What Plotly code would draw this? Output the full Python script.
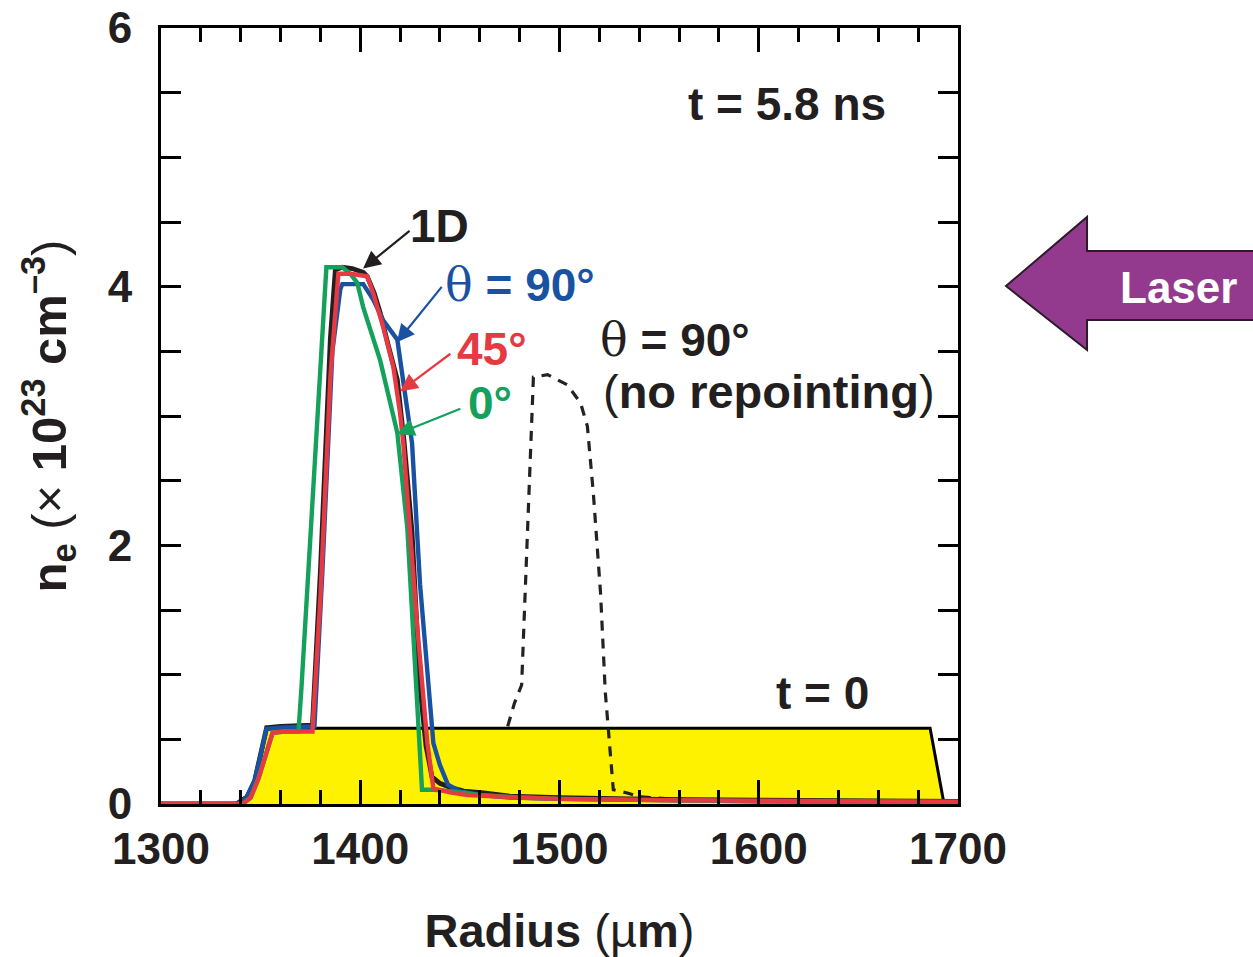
import plotly.graph_objects as go

# ---------------- data ----------------
r_t0 = [1300, 1337, 1343, 1348, 1353, 1686, 1693, 1700]
n_t0 = [0, 0, 0.06, 0.2, 0.585, 0.585, 0, 0]

r_1d = [1300, 1338, 1343, 1347, 1353, 1360, 1376, 1380, 1385, 1387.5, 1391, 1396, 1401.5,
        1403.5, 1407, 1410, 1414, 1418.6, 1422, 1426, 1430, 1433, 1436, 1440, 1445, 1452,
        1462, 1475, 1500, 1550, 1600, 1650, 1700]
n_1d = [0, 0, 0.05, 0.18, 0.59, 0.6, 0.61, 1.8, 3.6, 4.13, 4.15, 4.14, 4.11,
        4.08, 3.95, 3.8, 3.55, 3.28, 2.8, 2.1, 0.9, 0.45, 0.21, 0.16, 0.13, 0.1,
        0.085, 0.06, 0.05, 0.035, 0.03, 0.025, 0.02]

r_90 = [1300, 1338, 1343, 1347, 1353, 1360, 1377, 1381, 1386, 1390, 1391, 1401.5, 1406.5,
        1411.5, 1418.6, 1421, 1424, 1426, 1430, 1434, 1436.7, 1440, 1444, 1450, 1460, 1475,
        1500, 1550, 1600, 1700]
n_90 = [0, 0, 0.05, 0.18, 0.58, 0.59, 0.6, 1.8, 3.5, 3.98, 4.02, 4.02, 3.9,
        3.74, 3.59, 3.33, 3.0, 2.79, 1.7, 0.9, 0.47, 0.3, 0.15, 0.1, 0.07, 0.05,
        0.04, 0.03, 0.02, 0.015]

r_0 = [1300, 1341, 1345, 1349, 1356, 1362, 1369, 1370.5, 1383, 1391, 1395, 1398.5, 1401.5,
       1406, 1410, 1414, 1418.6, 1423.6, 1428.6, 1431, 1437, 1445, 1460, 1480, 1500, 1550,
       1600, 1700]
n_0 = [0, 0, 0.05, 0.2, 0.55, 0.56, 0.56, 0.9, 4.15, 4.15, 4.1, 4.03, 3.84,
       3.62, 3.43, 3.17, 2.87, 2.14, 0.86, 0.11, 0.11, 0.1, 0.07, 0.05, 0.04, 0.03,
       0.02, 0.015]

r_45 = [1300, 1341, 1345, 1349, 1356, 1362, 1376, 1380, 1385, 1389, 1395, 1403.5, 1406.5,
        1411.5, 1416.6, 1420, 1421.6, 1425, 1428.6, 1433.7, 1436.7, 1445, 1453.8, 1479, 1500,
        1550, 1600, 1650, 1700]
n_45 = [0, 0, 0.05, 0.2, 0.55, 0.56, 0.56, 1.6, 3.3, 4.1, 4.1, 4.08, 3.95,
        3.69, 3.38, 3.02, 2.79, 2.1, 1.37, 0.47, 0.12, 0.09, 0.07, 0.05, 0.04,
        0.03, 0.025, 0.02, 0.015]

r_norep = [1474, 1477.4, 1481, 1483.4, 1486, 1486.9, 1494, 1504, 1510.6, 1514, 1517, 1520.6,
           1523, 1525, 1527, 1534, 1540.7, 1555, 1570]
n_norep = [0.6, 0.78, 0.92, 1.89, 2.92, 3.3, 3.32, 3.24, 3.1, 2.92, 2.4, 1.63,
           0.86, 0.47, 0.11, 0.085, 0.055, 0.04, 0.03]

x_ticks = [1300, 1400, 1500, 1600, 1700]
y_ticks = [0, 2, 4, 6]

BLUE = "#1A52A2"
RED = "#E63A42"
GREEN = "#13A15B"
YELLOW = "#FFF200"
PURPLE = "#933A8E"
INK = "#231F20"
FONT = "Liberation Sans"

# plot area in page pixels
L, R, T, B = 161, 958, 28, 804
W, H = 1253, 957


def px(x, y):
    return (x - L) / (R - L), (B - y) / (B - T)


fig = go.Figure()

fig.add_trace(go.Scatter(x=r_t0, y=n_t0, mode="lines", fill="tozeroy", fillcolor=YELLOW,
                         line=dict(color="black", width=3), hoverinfo="skip"))
fig.add_trace(go.Scatter(x=r_norep, y=n_norep, mode="lines",
                         line=dict(color="#222222", width=3.2, dash="10px,8px")))
fig.add_trace(go.Scatter(x=r_1d, y=n_1d, mode="lines", line=dict(color=INK, width=4.8)))
fig.add_trace(go.Scatter(x=r_90, y=n_90, mode="lines", line=dict(color=BLUE, width=4.4)))
fig.add_trace(go.Scatter(x=r_0, y=n_0, mode="lines", line=dict(color=GREEN, width=4.4)))
fig.add_trace(go.Scatter(x=r_45, y=n_45, mode="lines", line=dict(color=RED, width=4.4)))

AF = 46
TH = "<span style='font-family:DejaVu Serif;font-weight:normal'>θ</span>"


def arrow(x, y, ax, ay, color):
    fig.add_annotation(x=x, y=y, ax=ax, ay=ay, xref="x", yref="y", axref="x", ayref="y",
                       text="", showarrow=True, arrowhead=2, arrowsize=1.6, arrowwidth=2.2,
                       arrowcolor=color)


def label(x, y, text, color, size=AF):
    fig.add_annotation(x=x, y=y, xref="x", yref="y", text=text, showarrow=False,
                       xanchor="center", yanchor="middle",
                       font=dict(family=FONT, size=size, color=color, weight="bold"))


arrow(1401.4, 4.14, 1425.5, 4.44, INK)
label(1440, 4.47, "1D", INK)
arrow(1418.4, 3.57, 1441.5, 4.01, BLUE)
label(1480, 4.01, TH + " = 90°", BLUE)
arrow(1420, 3.19, 1446, 3.49, RED)
label(1466, 3.52, "45°", RED)
arrow(1418.4, 2.86, 1451, 3.06, GREEN)
label(1465, 3.10, "0°", GREEN)

label(1558, 3.59, TH + " = 90°", INK)
label(1605, 3.19, "<span style='font-weight:normal'>(</span>no repointing<span style='font-weight:normal'>)</span>", INK, 47)
label(1614, 5.41, "t = 5.8 ns", INK)
label(1632, 0.86, "t = 0", INK)

# Laser arrow (outside plot area, paper coords)
pts = [(1006, 286), (1087, 217), (1087, 251), (1260, 251), (1260, 320), (1087, 320), (1087, 350)]
path = "M " + " L ".join("%.4f,%.4f" % px(a, b) for a, b in pts) + " Z"
fig.add_shape(type="path", path=path, xref="paper", yref="paper", fillcolor=PURPLE,
              line=dict(color="#2b1a2a", width=2), layer="above")
lx, ly = px(1178, 287)
fig.add_annotation(x=lx, y=ly, xref="paper", yref="paper", text="Laser", showarrow=False,
                   xanchor="center", yanchor="middle",
                   font=dict(family=FONT, size=44, color="white", weight="bold"))

fig.update_layout(
    width=W, height=H, showlegend=False,
    margin=dict(l=L, r=W - R, t=T, b=H - B, autoexpand=False),
    plot_bgcolor="white", paper_bgcolor="white",
    font=dict(family=FONT, color=INK),
    xaxis=dict(range=[1300, 1700], tickvals=x_ticks, ticks="inside", ticklen=24, tickwidth=3,
               tickcolor="black", showline=True, linewidth=3, linecolor="black", mirror="ticks",
               showgrid=False, zeroline=False, ticklabelstandoff=4,
               tickfont=dict(family=FONT, size=44, color=INK, weight="bold"),
               minor=dict(dtick=20, tick0=1300, ticks="inside", ticklen=14, tickwidth=3,
                          tickcolor="black", showgrid=False),
               title=dict(text="<b>Radius</b> (µ<b>m</b>)", standoff=43,
                          font=dict(family=FONT, size=47, color=INK))),
    yaxis=dict(range=[0, 6], tickvals=y_ticks, ticks="inside", ticklen=20, tickwidth=3,
               tickcolor="black", showline=True, linewidth=3, linecolor="black", mirror="ticks",
               showgrid=False, zeroline=False, ticklabelstandoff=17,
               tickfont=dict(family=FONT, size=44, color=INK, weight="bold"),
               minor=dict(dtick=0.5, tick0=0, ticks="inside", ticklen=20, tickwidth=3,
                          tickcolor="black", showgrid=False),
               title=dict(text="<b>n<sub>e</sub></b> (× <b>10<sup>23</sup> cm<sup>–3</sup></b>)",
                          standoff=26, font=dict(family=FONT, size=49, color=INK))),
)

fig.write_html("out.html")
